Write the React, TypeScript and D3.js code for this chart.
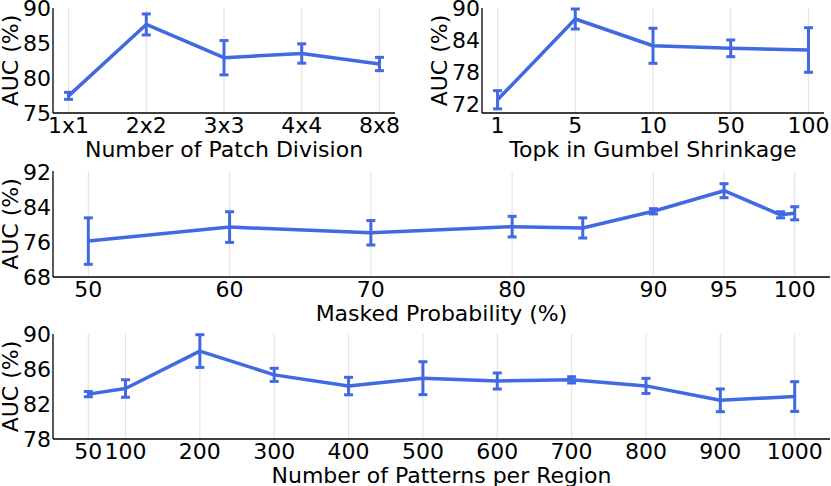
import * as React from "react";
import * as d3 from "d3";

// panel 1: number of patch division
const patchDivisions: string[] = ["1x1", "2x2", "3x3", "4x4", "8x8"];
const patchAuc: number[] = [77.45, 87.65, 82.9, 83.5, 82.0];
const patchErr: number[] = [0.5, 1.5, 2.45, 1.38, 0.95];
const patchYTicks: number[] = [75, 80, 85, 90];

// panel 2: topk in gumbel shrinkage
const topkValues: string[] = ["1", "5", "10", "50", "100"];
const topkAuc: number[] = [72.87, 87.95, 82.95, 82.47, 82.16];
const topkErr: number[] = [1.7, 1.87, 3.27, 1.56, 4.16];
const topkYTicks: number[] = [72, 78, 84, 90];

// panel 3: masked probability
const maskProbs: number[] = [50, 60, 70, 80, 85, 90, 95, 99, 100];
const maskAuc: number[] = [76.2, 79.4, 78.1, 79.5, 79.2, 83.0, 87.7, 82.2, 82.55];
const maskErr: number[] = [5.3, 3.5, 2.8, 2.35, 2.3, 0.6, 1.6, 0.7, 1.5];
const maskXTicks: number[] = [50, 60, 70, 80, 90, 95, 100];
const maskYTicks: number[] = [68, 76, 84, 92];

// panel 4: number of patterns per region
const patternCounts: number[] = [50, 100, 200, 300, 400, 500, 600, 700, 800, 900, 1000];
const patternAuc: number[] = [83.13, 83.77, 88.05, 85.33, 84.05, 84.95, 84.63, 84.76, 84.07, 82.42, 82.85];
const patternErr: number[] = [0.3, 1.0, 1.87, 0.75, 1.0, 1.88, 0.92, 0.36, 0.86, 1.3, 1.7];
const patternYTicks: number[] = [78, 82, 86, 90];

const WIDTH: number = 831;
const HEIGHT: number = 486;
const LINE_COLOR: string = "#4169e1";
const FONT: string = "'DejaVu Sans', sans-serif";

type Box = {
  left: number;
  right: number;
  top: number;
  bottom: number;
};

interface PanelSpec {
  box: Box;
  xPos: (d: any) => number;
  xPoints: any[];
  xTicks: any[];
  yDomain: [number, number];
  yTicks: number[];
  values: number[];
  errors: number[];
  xTitle: string;
  yTitleX: number;
}

export default class App extends React.PureComponent {
  private svgRef: React.RefObject<SVGSVGElement | null> = React.createRef<SVGSVGElement>();

  public componentDidMount(): void {
    this.drawChart();
  }

  public render(): JSX.Element {
    return (
      <div style={{ position: "absolute", left: 0, top: 0 }}>
        <svg ref={this.svgRef} width={WIDTH} height={HEIGHT} style={{ display: "block", background: "#fff" }} />
      </div>
    );
  }

  private drawChart(): void {
    const svg = d3.select(this.svgRef.current);
    svg.selectAll("*").remove();

    const box1: Box = { left: 53, right: 395, top: 8, bottom: 113 };
    const x1 = d3.scalePoint<string>().domain(patchDivisions).range([box1.left, box1.right]).padding(0.2);
    this.drawPanel(svg, {
      box: box1, xPos: (d: string) => x1(d) as number, xPoints: patchDivisions, xTicks: patchDivisions,
      yDomain: [75, 90], yTicks: patchYTicks, values: patchAuc, errors: patchErr,
      xTitle: "Number of Patch Division", yTitleX: 18
    });

    const box2: Box = { left: 482, right: 824, top: 8, bottom: 113 };
    const x2 = d3.scalePoint<string>().domain(topkValues).range([box2.left, box2.right]).padding(0.2);
    this.drawPanel(svg, {
      box: box2, xPos: (d: string) => x2(d) as number, xPoints: topkValues, xTicks: topkValues,
      yDomain: [70.4, 90], yTicks: topkYTicks, values: topkAuc, errors: topkErr,
      xTitle: "Topk in Gumbel Shrinkage", yTitleX: 447
    });

    const box3: Box = { left: 53, right: 830, top: 171, bottom: 277 };
    const x3 = d3.scaleLinear().domain([47.5, 102.5]).range([box3.left, box3.right]);
    this.drawPanel(svg, {
      box: box3, xPos: (d: number) => x3(d), xPoints: maskProbs, xTicks: maskXTicks,
      yDomain: [68, 92.2], yTicks: maskYTicks, values: maskAuc, errors: maskErr,
      xTitle: "Masked Probability (%)", yTitleX: 18
    });

    const box4: Box = { left: 53, right: 830, top: 334, bottom: 439 };
    const x4 = d3.scaleLinear().domain([2.5, 1047.5]).range([box4.left, box4.right]);
    this.drawPanel(svg, {
      box: box4, xPos: (d: number) => x4(d), xPoints: patternCounts, xTicks: patternCounts,
      yDomain: [78, 90], yTicks: patternYTicks, values: patternAuc, errors: patternErr,
      xTitle: "Number of Patterns per Region", yTitleX: 18
    });
  }

  private drawPanel(svg: d3.Selection<any, unknown, null, undefined>, spec: PanelSpec): void {
    const { box, xPos, xPoints, xTicks, values, errors } = spec;
    const y: d3.ScaleLinear<number, number> = d3.scaleLinear().domain(spec.yDomain).range([box.bottom, box.top]);
    const g = svg.append("g");

    // vertical grid lines at the x ticks
    g.selectAll("line.grid").data(xTicks).enter().append("line")
      .attr("class", "grid")
      .attr("x1", (d: any) => xPos(d)).attr("x2", (d: any) => xPos(d))
      .attr("y1", box.top).attr("y2", box.bottom)
      .attr("stroke", "#e5e5e5").attr("stroke-width", 1.2);

    // spines, left and bottom only
    g.append("line").attr("x1", box.left).attr("x2", box.left).attr("y1", box.top).attr("y2", box.bottom)
      .attr("stroke", "#000").attr("stroke-width", 1.3);
    g.append("line").attr("x1", box.left).attr("x2", box.right).attr("y1", box.bottom).attr("y2", box.bottom)
      .attr("stroke", "#000").attr("stroke-width", 1.3);

    // main line
    const line = d3.line<number>()
      .x((_d: number, i: number) => xPos(xPoints[i]))
      .y((d: number) => y(d));
    g.append("path").datum(values)
      .attr("d", line)
      .attr("fill", "none")
      .attr("stroke", LINE_COLOR)
      .attr("stroke-width", 3.5)
      .attr("stroke-linejoin", "round");

    // error bars with caps
    const bars = g.selectAll("g.err").data(values).enter().append("g").attr("class", "err");
    bars.append("line")
      .attr("x1", (_d: number, i: number) => xPos(xPoints[i]))
      .attr("x2", (_d: number, i: number) => xPos(xPoints[i]))
      .attr("y1", (d: number, i: number) => y(d - errors[i]))
      .attr("y2", (d: number, i: number) => y(d + errors[i]))
      .attr("stroke", LINE_COLOR).attr("stroke-width", 3);
    [-1, 1].forEach((sign: number) => {
      bars.append("line")
        .attr("x1", (_d: number, i: number) => xPos(xPoints[i]) - 4.5)
        .attr("x2", (_d: number, i: number) => xPos(xPoints[i]) + 4.5)
        .attr("y1", (d: number, i: number) => y(d + sign * errors[i]))
        .attr("y2", (d: number, i: number) => y(d + sign * errors[i]))
        .attr("stroke", LINE_COLOR).attr("stroke-width", 3);
    });

    // tick labels
    g.selectAll("text.ytick").data(spec.yTicks).enter().append("text")
      .attr("class", "ytick")
      .attr("x", box.left - 2).attr("y", (d: number) => y(d) + 8)
      .attr("text-anchor", "end")
      .style("font-family", FONT).style("font-size", "22px").attr("fill", "#000")
      .text((d: number) => String(d));
    g.selectAll("text.xtick").data(xTicks).enter().append("text")
      .attr("class", "xtick")
      .attr("x", (d: any) => xPos(d)).attr("y", box.bottom + 20)
      .attr("text-anchor", "middle")
      .style("font-family", FONT).style("font-size", "22px").attr("fill", "#000")
      .text((d: any) => String(d));

    // axis titles
    g.append("text")
      .attr("x", (box.left + box.right) / 2).attr("y", box.bottom + 44)
      .attr("text-anchor", "middle")
      .style("font-family", FONT).style("font-size", "22px").attr("fill", "#000")
      .text(spec.xTitle);
    g.append("text")
      .attr("transform", `translate(${spec.yTitleX}, ${(box.top + box.bottom) / 2}) rotate(-90)`)
      .attr("text-anchor", "middle")
      .style("font-family", FONT).style("font-size", "22px").attr("fill", "#000")
      .text("AUC (%)");
  }
}
